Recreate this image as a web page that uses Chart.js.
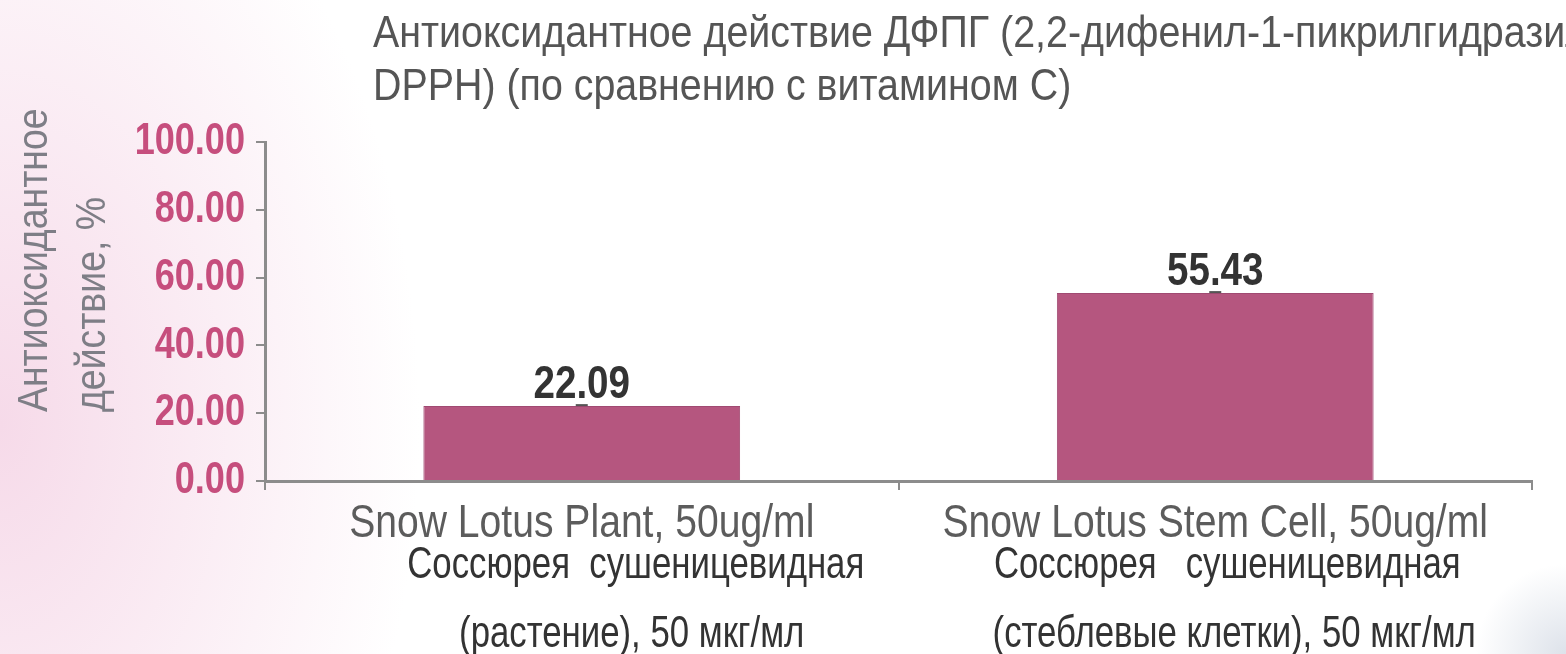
<!DOCTYPE html>
<html>
<head>
<meta charset="utf-8">
<script src="https://cdn.jsdelivr.net/npm/chart.js@4/dist/chart.umd.min.js"></script>
<style>
  html, body { margin: 0; padding: 0; }
  body {
    width: 1566px; height: 654px; overflow: hidden;
    background:
      radial-gradient(ellipse 420px 660px at 0% 65%, #f6dae9 0%, rgba(255,255,255,0) 100%),
      radial-gradient(circle 90px at 100% 100%, #dde2ea 0%, rgba(255,255,255,0) 100%),
      #ffffff;
  }
  canvas { display: block; }
</style>
</head>
<body>
<canvas id="dpph" width="1566" height="654"></canvas>
<script>
// Arial Narrow is not installed, so Liberation Sans is squeezed sideways
const FONT = '"Liberation Sans", Arial, sans-serif';
const NARROW = 0.85;

// data
const categories = ['Snow Lotus Plant, 50ug/ml', 'Snow Lotus Stem Cell, 50ug/ml'];
const ruNames = ['Соссюрея  сушеницевидная', 'Соссюрея   сушеницевидная'];
const ruDoses = ['(растение), 50 мкг/мл', '(стеблевые клетки), 50 мкг/мл'];
const values = [22.09, 55.43];
const yTicks = [0, 20, 40, 60, 80, 100];
const titleLines = ['Антиоксидантное действие ДФПГ (2,2-дифенил-1-пикрилгидразил,', 'DPPH) (по сравнению с витамином С)'];
const yTitleLines = ['Антиоксидантное', 'действие, %'];

function narrowText(c, text, x, y, opts) {
  c.save();
  c.font = opts.font;
  c.fillStyle = opts.color;
  c.textAlign = opts.align || 'left';
  c.textBaseline = opts.baseline || 'alphabetic';
  c.translate(x, y);
  if (opts.rotate) c.rotate(opts.rotate);
  c.scale(opts.squeeze || NARROW, 1);
  c.fillText(text, 0, 0);
  c.restore();
}

const textPlugin = {
  id: 'textBits',
  afterDatasetsDraw(chart) {
    const c = chart.ctx;
    chart.getDatasetMeta(0).data.forEach((bar, i) => {
      // tiny error cap on top of the bar
      c.save();
      c.strokeStyle = '#555555';
      c.lineWidth = 2;
      c.beginPath();
      c.moveTo(bar.x - 6, bar.y - 1);
      c.lineTo(bar.x + 6, bar.y - 1);
      c.stroke();
      c.restore();
      narrowText(c, values[i].toFixed(2), bar.x, bar.y - 8,
        { font: 'bold 46px ' + FONT, color: '#333333', align: 'center', squeeze: 0.84 });
    });
  },
  afterDraw(chart) {
    const c = chart.ctx;
    const x = chart.scales.x;
    const y = chart.scales.y;

    // title, left aligned, runs off the right edge like the original
    narrowText(c, titleLines[0], 373, 47, { font: '45px ' + FONT, color: '#555555', squeeze: 0.875 });
    narrowText(c, titleLines[1], 373, 100, { font: '45px ' + FONT, color: '#555555', squeeze: 0.875 });

    // y axis title, two rotated lines
    [35, 93].forEach((cx, i) => {
      narrowText(c, yTitleLines[i], cx, 412,
        { font: '43px ' + FONT, color: '#7e7e86', baseline: 'middle', rotate: -Math.PI / 2, squeeze: 0.87 });
    });

    // y tick labels at the scale's own tick positions
    y.ticks.forEach(t => {
      narrowText(c, t.value.toFixed(2), 245, y.getPixelForValue(t.value),
        { font: 'bold 44px ' + FONT, color: '#c64e7d', align: 'right', baseline: 'middle', squeeze: 0.82 });
    });

    // category labels: english line, then the russian lines
    const nameShift = [54, 12];
    const doseShift = [50, 19];
    categories.forEach((label, i) => {
      const px = x.getPixelForValue(i);
      narrowText(c, label, px, 537, { font: '46px ' + FONT, color: '#5c5c5c', align: 'center' });
      narrowText(c, ruNames[i], px + nameShift[i], 578, { font: '44px ' + FONT, color: '#333333', align: 'center', squeeze: 0.79 });
      narrowText(c, ruDoses[i], px + doseShift[i], 647, { font: '44px ' + FONT, color: '#333333', align: 'center', squeeze: 0.79 });
    });
  }
};

new Chart(document.getElementById('dpph').getContext('2d'), {
  type: 'bar',
  data: {
    labels: categories,
    datasets: [{
      data: values,
      backgroundColor: '#b5567f',
      borderColor: '#a04a72',
      borderWidth: 1,
      barPercentage: 0.5,
      categoryPercentage: 1
    }]
  },
  options: {
    responsive: false,
    animation: false,
    layout: { padding: { top: 142, right: 34, left: 0, bottom: 0 } },
    plugins: {
      legend: { display: false },
      tooltip: { enabled: false }
    },
    scales: {
      x: {
        grid: { drawOnChartArea: false, tickLength: 9, color: '#8c8c8c', lineWidth: 2 },
        border: { color: '#8c8c8c', width: 3 },
        ticks: { display: false },
        afterFit(s) { s.height = 654 - 481; }
      },
      y: {
        min: 0,
        max: 100,
        afterBuildTicks(s) { s.ticks = yTicks.map(v => ({ value: v })); },
        grid: { drawOnChartArea: false, tickLength: 9, color: '#8c8c8c', lineWidth: 2 },
        border: { color: '#8c8c8c', width: 3 },
        ticks: { display: false },
        afterFit(s) { s.width = 265; }
      }
    }
  },
  plugins: [textPlugin]
});
</script>
</body>
</html>
